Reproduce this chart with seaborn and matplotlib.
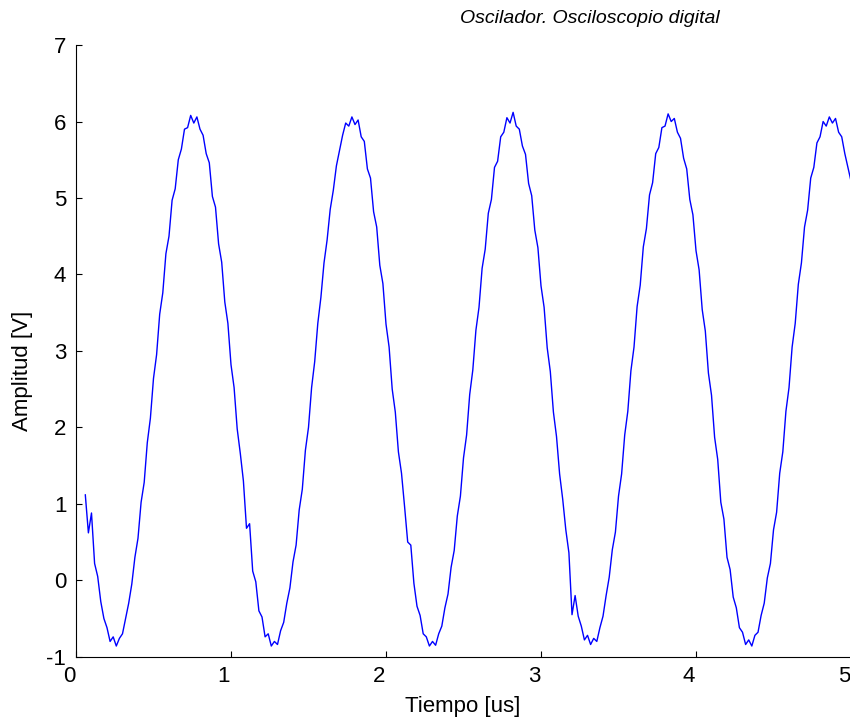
import numpy as np
import pandas as pd
import matplotlib
matplotlib.use("Agg")
import matplotlib.pyplot as plt
import matplotlib.transforms as mtransforms
import seaborn as sns

# Oscilloscope capture (one sample every 0.02 us)
t_start = 0.06
dt = 0.02

seg1 = [1.12, 0.62, 0.88, 0.22, 0.05, -0.28, -0.50, -0.62, -0.80, -0.74,
        -0.86, -0.76, -0.70, -0.50, -0.30, -0.05, 0.30, 0.55, 1.02, 1.28,
        1.80, 2.12, 2.64, 2.95, 3.48, 3.76, 4.27, 4.50, 4.97, 5.12,
        5.50, 5.64, 5.90, 5.92, 6.08, 5.98, 6.06, 5.90, 5.82, 5.58,
        5.46, 5.02, 4.88, 4.40, 4.16, 3.64, 3.36, 2.82, 2.52, 1.98]
seg2 = [1.66, 1.30, 0.68, 0.74, 0.12, -0.02, -0.40, -0.48, -0.74, -0.70,
        -0.86, -0.80, -0.84, -0.66, -0.55, -0.30, -0.10, 0.24, 0.46, 0.92,
        1.19, 1.70, 2.00, 2.52, 2.86, 3.36, 3.70, 4.15, 4.45, 4.85,
        5.10, 5.42, 5.62, 5.82, 5.98, 5.94, 6.06, 5.96, 6.02, 5.80,
        5.74, 5.38, 5.26, 4.82, 4.62, 4.12, 3.88, 3.35, 3.05, 2.50]
seg3 = [2.20, 1.68, 1.40, 0.96, 0.50, 0.46, -0.04, -0.34, -0.46, -0.70,
        -0.74, -0.86, -0.80, -0.85, -0.70, -0.60, -0.36, -0.18, 0.17, 0.39,
        0.84, 1.10, 1.60, 1.90, 2.43, 2.75, 3.27, 3.57, 4.08, 4.33,
        4.80, 4.98, 5.40, 5.48, 5.80, 5.86, 6.05, 5.98, 6.12, 5.94,
        5.90, 5.68, 5.57, 5.19, 5.03, 4.58, 4.35, 3.85, 3.57, 3.04]
seg4 = [2.73, 2.20, 1.88, 1.39, 1.06, 0.66, 0.36, -0.45, -0.20, -0.47,
        -0.60, -0.78, -0.72, -0.84, -0.76, -0.80, -0.62, -0.47, -0.20, 0.04,
        0.40, 0.63, 1.10, 1.39, 1.90, 2.21, 2.74, 3.05, 3.58, 3.86,
        4.36, 4.60, 5.04, 5.20, 5.58, 5.66, 5.92, 5.94, 6.10, 6.00,
        6.04, 5.86, 5.78, 5.52, 5.38, 4.98, 4.78, 4.31, 4.06, 3.54]
seg5 = [3.26, 2.71, 2.42, 1.87, 1.58, 1.02, 0.80, 0.30, 0.14, -0.22,
        -0.36, -0.62, -0.68, -0.84, -0.78, -0.86, -0.72, -0.68, -0.46, -0.30,
        0.03, 0.22, 0.66, 0.89, 1.40, 1.68, 2.21, 2.52, 3.05, 3.36,
        3.87, 4.15, 4.62, 4.84, 5.26, 5.40, 5.72, 5.80, 6.00, 5.94,
        6.06, 5.98, 6.04, 5.86, 5.80, 5.58, 5.40, 5.22]

x_ticks = [0, 1, 2, 3, 4, 5]
y_ticks = [-1, 0, 1, 2, 3, 4, 5, 6, 7]

amplitud = seg1 + seg2 + seg3 + seg4 + seg5
tiempo = t_start + dt * np.arange(len(amplitud))
df = pd.DataFrame({"tiempo": tiempo, "amplitud": amplitud})

sns.set_style("ticks")
plt.rcParams["font.family"] = ["Liberation Sans", "DejaVu Sans"]
plt.rcParams["axes.unicode_minus"] = False
plt.rcParams["xtick.direction"] = "in"
plt.rcParams["ytick.direction"] = "in"
plt.rcParams["text.color"] = "black"
plt.rcParams["xtick.labelcolor"] = "black"
plt.rcParams["ytick.labelcolor"] = "black"

fig = plt.figure(figsize=(8.5, 7.22), dpi=100)
ax = fig.add_axes([0.0894, 0.0904, 0.9118, 0.8472])

sns.lineplot(data=df, x="tiempo", y="amplitud", ax=ax, color="#0000ff",
             linewidth=1.0, estimator=None, sort=False)

ax.set_xlim(0, 5)
ax.set_ylim(-1, 7)
ax.set_xticks(x_ticks)
ax.set_yticks(y_ticks)
ax.tick_params(labelsize=16, length=4, width=0.8, color="black", pad=7)
for s in ["top", "right"]:
    ax.spines[s].set_visible(False)
for s in ["left", "bottom"]:
    ax.spines[s].set_linewidth(0.8)
    ax.spines[s].set_color("black")

# x tick labels sit a little left of their ticks in the original
shift = mtransforms.ScaledTranslation(-7 / 100, 0, fig.dpi_scale_trans)
for lab in ax.get_xticklabels():
    lab.set_transform(lab.get_transform() + shift)

ax.set_xlabel("")
ax.set_ylabel("")
fig.text(0.544, 0.022, "Tiempo [us]", ha="center", va="center", fontsize=16)
fig.text(0.027, 0.487, "Amplitud [V]", ha="center", va="center", fontsize=16,
         rotation=90)
fig.text(0.6935, 0.975, "Oscilador. Osciloscopio digital", ha="center",
         va="center", fontsize=14, style="italic")

fig.savefig("out.png", dpi=100)
